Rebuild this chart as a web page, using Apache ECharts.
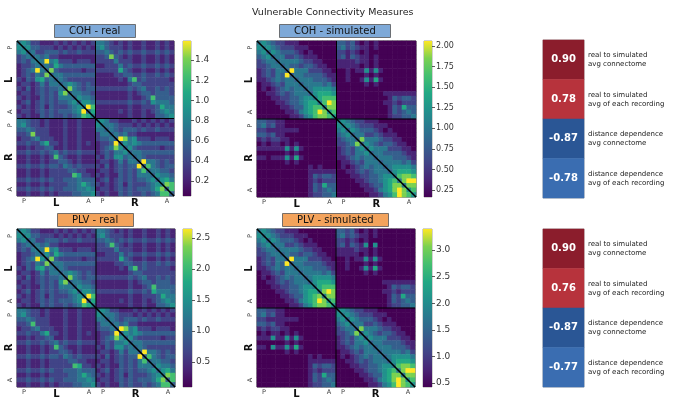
<!DOCTYPE html>
<html>
<head>
<meta charset="UTF-8">
<title>Vulnerable Connectivity Measures</title>
<script src="https://cdn.jsdelivr.net/npm/echarts@6.0.0/dist/echarts.min.js"></script>
<style>
  html, body { margin: 0; padding: 0; background: #fff; }
  #chart { width: 680px; height: 403px; }
</style>
</head>
<body>
<div id="chart"></div>
<script>
// 34 x 34 regions (17 per hemisphere, posterior -> anterior), read at half resolution.
// Each digit is a colour level: 0 = bottom, 9 = top.
// LL / RR = lower triangle of the within-hemisphere block, RL = right-to-left block.
var N = 34, HEMI = 17;

var TICK_POS = [1, 8, 15, 18, 25, 32];
var TICK_TEXT = ['P', 'L', 'A', 'P', 'R', 'A'];

var COH_REAL_RANGE = [0.05, 1.59];
var COH_SIM_RANGE = [0.165, 2.06];
var PLV_REAL_RANGE = [0.097, 2.645];
var PLV_SIM_RANGE = [0.425, 3.395];

var COH_REAL_TICKS = [0.2, 0.4, 0.6, 0.8, 1.0, 1.2, 1.4];
var COH_SIM_TICKS = [0.25, 0.5, 0.75, 1.0, 1.25, 1.5, 1.75, 2.0];
var PLV_REAL_TICKS = [0.5, 1.0, 1.5, 2.0, 2.5];
var PLV_SIM_TICKS = [0.5, 1.0, 1.5, 2.0, 2.5, 3.0];

var SCORE_LABELS = ['real to simulated\navg connectome', 'real to simulated\navg of each recording',
  'distance dependence\navg connectome', 'distance dependence\navg of each recording'];
var COH_SCORES = [0.90, 0.78, -0.87, -0.78];
var PLV_SCORES = [0.90, 0.76, -0.87, -0.77];

var COH_REAL_LL = ['4', '54', '453', '2343', '23244', '122343', '1234943', '12324383', '213256343',
  '1221242443', '21312323343', '122123232583', '2121132324443', '12312323233453', '212123132223454',
  '1221232323334593', '21211323223234764'];
var COH_REAL_RL = ['44322121112112111', '45322121112112111', '33432221112112111', '22382221112112111',
  '12234222112112111', '22322462212112121', '11212233112112111', '22322323423223222', '11211212732112111',
  '11211212233212111', '22322323324323222', '11211212222332211', '11211212222275221', '22322323223334333',
  '11211212222334643', '22322323223334454', '11211212122233445'];
var COH_REAL_RR = ['4', '54', '443', '2443', '23343', '122393', '1234853', '12324453', '213255343',
  '1221242443', '21312323393', '122123232473', '2121132324443', '12312323233453', '212123132223454',
  '1221232323334683', '21211323223234773'];

var COH_SIM_LL = ['4', '54', '453', '3453', '23443', '223443', '1232443', '12324393', '112343443',
  '0112324443', '01012343443', '001123234443', '0001122334554', '00001123345664', '000001123356774',
  '0000001124567985', '00000001124578875'];
var COH_SIM_RL = ['33221100000000000', '34231100000000000', '22111111100000000', '33231100000000000',
  '12122110000000000', '01011010100000000', '11111151510000000', '00000010100000000', '11011151610000000',
  '00000010100000000', '00000000000101000', '00000000000111111', '00000000000132332', '00000000000121222',
  '00000000000132633', '00000000000132343', '00000000000122334'];
var COH_SIM_RR = ['4', '54', '453', '3453', '23443', '223483', '1232453', '12324453', '112343443',
  '0112324443', '01012343443', '001123234443', '0001122334554', '00001123345674', '000001123356884',
  '0000001124568985', '00000001124579875'];

var PLV_REAL_LL = ['4', '54', '453', '2343', '23244', '122343', '1234953', '12324383', '213256343',
  '1221242443', '21312323343', '122123232583', '2121132324443', '12312323233453', '212123132223454',
  '1221232323334593', '21211323223234764'];
var PLV_REAL_RL = ['44322121112112111', '45322121112112111', '33432221112112111', '22372221112112111',
  '12234222112112111', '22322462212112121', '11212233112112111', '22322323423223222', '11211212732112111',
  '11211212233212111', '22322323324323222', '11211212222332211', '11211212222276221', '22322323223334333',
  '11211212222334643', '22322323223334454', '11211212122233445'];
var PLV_REAL_RR = ['4', '54', '443', '2443', '23343', '122393', '1234853', '12324453', '213255343',
  '1221242443', '21312323393', '122123232473', '2121132324443', '12312323233453', '212123132223454',
  '1221232323334683', '21211323223234773'];

var PLV_SIM_LL = ['4', '54', '453', '3453', '23443', '223443', '1232443', '12324393', '112343443',
  '0112324443', '01012343443', '001123234443', '0001122334554', '00001123345664', '000001123356784',
  '0000001124567985', '00000001124578875'];
var PLV_SIM_RL = ['33221100000000000', '34231100000000000', '22111111100000000', '33231100000000000',
  '12122110000000000', '01011010100000000', '11151151510000000', '00000010100000000', '11051151610000000',
  '00000010100000000', '00000000000101000', '00000000000111111', '00000000000132332', '00000000000121222',
  '00000000000132633', '00000000000132343', '00000000000122334'];
var PLV_SIM_RR = ['4', '54', '453', '3453', '23443', '223483', '1232453', '12324453', '112343443',
  '0112324443', '01012343443', '001123234443', '0001122334554', '00001123345674', '000001123356884',
  '0000001124568985', '00000001124579875'];

var VIRIDIS = ['#440154', '#482475', '#414487', '#355f8d', '#2a788e', '#21918c', '#22a884', '#44bf70', '#7ad151', '#fde725'];
var FONT = 'DejaVu Sans';

var CATS = [];
for (var c = 0; c < N; c++) CATS.push(String(c));

function buildMatrix(ll, rl, rr, range) {
  var rows = [];
  for (var i = 0; i < HEMI; i++) rows.push(ll[i]);
  for (var i = 0; i < HEMI; i++) rows.push(rl[i] + rr[i]);
  var data = [];
  for (var i = 0; i < N; i++) {
    for (var j = 0; j <= i; j++) {
      var d = parseInt(rows[i].charAt(j), 10) || 0;
      var v = range[0] + d / 9 * (range[1] - range[0]);
      data.push([j, i, v]);
      if (i !== j) data.push([i, j, v]);
    }
  }
  return data;
}

var panels = [
  { title: 'COH - real', fill: '#7ea9d8', at: [54, 24], grid: [17, 41, 157, 155], cb: [183, 41, 8, 155],
    range: COH_REAL_RANGE, ticks: COH_REAL_TICKS, dec: 1, fs: 9,
    data: buildMatrix(COH_REAL_LL, COH_REAL_RL, COH_REAL_RR, COH_REAL_RANGE) },
  { title: 'COH - simulated', fill: '#7ea9d8', at: [279, 24], grid: [257, 41, 159, 156], cb: [424, 41, 8, 156],
    range: COH_SIM_RANGE, ticks: COH_SIM_TICKS, dec: 2, fs: 8,
    data: buildMatrix(COH_SIM_LL, COH_SIM_RL, COH_SIM_RR, COH_SIM_RANGE) },
  { title: 'PLV - real', fill: '#f3a35c', at: [57, 213], grid: [17, 229, 158, 158], cb: [183, 229, 9, 158],
    range: PLV_REAL_RANGE, ticks: PLV_REAL_TICKS, dec: 1, fs: 9,
    data: buildMatrix(PLV_REAL_LL, PLV_REAL_RL, PLV_REAL_RR, PLV_REAL_RANGE) },
  { title: 'PLV - simulated', fill: '#f3a35c', at: [282, 213], grid: [257, 229, 158, 158], cb: [423, 229, 9, 158],
    range: PLV_SIM_RANGE, ticks: PLV_SIM_TICKS, dec: 1, fs: 9,
    data: buildMatrix(PLV_SIM_LL, PLV_SIM_RL, PLV_SIM_RR, PLV_SIM_RANGE) }
];

var RICH = {
  s: { fontSize: 6.5, color: '#444', fontFamily: FONT },
  h: { fontSize: 10, fontWeight: 'bold', color: '#111', fontFamily: FONT }
};
function tickLabel(value, index) {
  var k = TICK_POS.indexOf(index);
  if (k < 0) return '';
  var t = TICK_TEXT[k];
  return (t === 'L' || t === 'R') ? '{h|' + t + '}' : '{s|' + t + '}';
}

var gradStops = VIRIDIS.map(function (col, i) { return { offset: i / (VIRIDIS.length - 1), color: col }; });

var option = {
  animation: false,
  textStyle: { fontFamily: FONT },
  title: [{ text: 'Vulnerable Connectivity Measures', left: 247, top: 3,
    textStyle: { fontSize: 9.5, fontWeight: 'normal', color: '#222', fontFamily: FONT } }],
  grid: [], xAxis: [], yAxis: [], series: [], visualMap: []
};

panels.forEach(function (p) {
  var g = option.grid.length;
  option.title.push({ text: p.title, left: p.at[0], top: p.at[1], backgroundColor: p.fill,
    borderColor: '#555', borderWidth: 0.8, padding: [1, 15],
    textStyle: { fontSize: 10, fontWeight: 'normal', color: '#111', lineHeight: 12, fontFamily: FONT } });

  // matrix
  option.grid.push({ left: p.grid[0], top: p.grid[1], width: p.grid[2], height: p.grid[3],
    show: true, borderColor: '#000', borderWidth: 0.8 });
  option.xAxis.push({ type: 'category', gridIndex: g, data: CATS, axisLine: { show: false },
    axisTick: { show: false }, splitLine: { show: false },
    axisLabel: { interval: 0, margin: 2, formatter: tickLabel, rich: RICH } });
  option.yAxis.push({ type: 'category', gridIndex: g, data: CATS, inverse: true, axisLine: { show: false },
    axisTick: { show: false }, splitLine: { show: false },
    axisLabel: { interval: 0, rotate: 90, margin: 3, formatter: tickLabel, rich: RICH } });
  option.series.push({ type: 'heatmap', xAxisIndex: g, yAxisIndex: g, data: p.data,
    progressive: 0, emphasis: { disabled: true }, itemStyle: { borderWidth: 0 } });
  option.visualMap.push({ type: 'continuous', seriesIndex: option.series.length - 1, dimension: 2,
    min: p.range[0], max: p.range[1], inRange: { color: VIRIDIS }, show: false });
  // diagonal and hemisphere separators
  option.series.push({ type: 'custom', xAxisIndex: g, yAxisIndex: g, data: [[HEMI, HEMI]], silent: true, z: 5,
    renderItem: function (params, api) {
      var s = api.size([1, 1]);
      var a = api.coord([0, 0]);
      var b = api.coord([N - 1, N - 1]);
      var x0 = a[0] - s[0] / 2, y0 = a[1] - s[1] / 2;
      var x1 = b[0] + s[0] / 2, y1 = b[1] + s[1] / 2;
      var m = api.coord([api.value(0), api.value(1)]);
      var xm = m[0] - s[0] / 2, ym = m[1] - s[1] / 2;
      return { type: 'group', children: [
        { type: 'line', shape: { x1: x0, y1: y0, x2: x1, y2: y1 }, style: { stroke: '#000', lineWidth: 1.6 } },
        { type: 'line', shape: { x1: x0, y1: ym, x2: x1, y2: ym }, style: { stroke: '#000', lineWidth: 1 } },
        { type: 'line', shape: { x1: xm, y1: y0, x2: xm, y2: y1 }, style: { stroke: '#000', lineWidth: 1 } }
      ] };
    } });

  // colourbar
  var cg = option.grid.length;
  option.grid.push({ left: p.cb[0], top: p.cb[1], width: p.cb[2], height: p.cb[3],
    show: true, borderColor: '#444', borderWidth: 0.5 });
  option.xAxis.push({ type: 'category', gridIndex: cg, data: [''], show: false });
  option.yAxis.push({ type: 'value', gridIndex: cg, position: 'right', min: p.range[0], max: p.range[1],
    splitLine: { show: false }, axisLine: { show: false },
    axisTick: { show: true, length: 3, customValues: p.ticks, lineStyle: { color: '#333', width: 0.8 } },
    axisLabel: { customValues: p.ticks, fontSize: p.fs, color: '#333', margin: 4,
      formatter: (function (dec) { return function (v) { return Number(v).toFixed(dec); }; })(p.dec) } });
  option.series.push({ type: 'custom', xAxisIndex: cg, yAxisIndex: cg, data: [[0, p.range[0], p.range[1]]], silent: true,
    renderItem: function (params, api) {
      var bot = api.coord([0, api.value(1)]);
      var top = api.coord([0, api.value(2)]);
      var w = api.size([1, 0])[0];
      return { type: 'rect', shape: { x: bot[0] - w / 2, y: top[1], width: w, height: bot[1] - top[1] },
        style: { fill: new echarts.graphic.LinearGradient(0, 1, 0, 0, gradStops) } };
    } });
});

// score panels
[[COH_SCORES, 40], [PLV_SCORES, 229]].forEach(function (sp) {
  var g = option.grid.length;
  option.grid.push({ left: 543, top: sp[1], width: 41, height: 158, show: true, borderColor: '#999', borderWidth: 0.8 });
  option.xAxis.push({ type: 'category', gridIndex: g, data: [''], show: false });
  option.yAxis.push({ type: 'category', gridIndex: g, data: SCORE_LABELS, inverse: true, position: 'right',
    axisLine: { show: false }, axisTick: { show: false }, splitLine: { show: false },
    axisLabel: { fontSize: 7, color: '#222', lineHeight: 9, margin: 4, align: 'left' } });
  option.series.push({ type: 'heatmap', xAxisIndex: g, yAxisIndex: g, progressive: 0,
    data: sp[0].map(function (v, i) { return [0, i, v]; }), emphasis: { disabled: true },
    label: { show: true, color: '#fff', fontWeight: 'bold', fontSize: 10,
      formatter: function (q) { return q.value[2].toFixed(2); } } });
  option.visualMap.push({ type: 'piecewise', seriesIndex: option.series.length - 1, dimension: 2, show: false,
    pieces: [
      { gte: 0.85, color: '#8b1d2c' },
      { gte: 0.6, lt: 0.85, color: '#b7333c' },
      { gte: -0.82, lt: -0.6, color: '#3a6db1' },
      { lt: -0.82, color: '#2a5695' }
    ] });
});

var chart = echarts.init(document.getElementById('chart'));
chart.setOption(option);
</script>
</body>
</html>
